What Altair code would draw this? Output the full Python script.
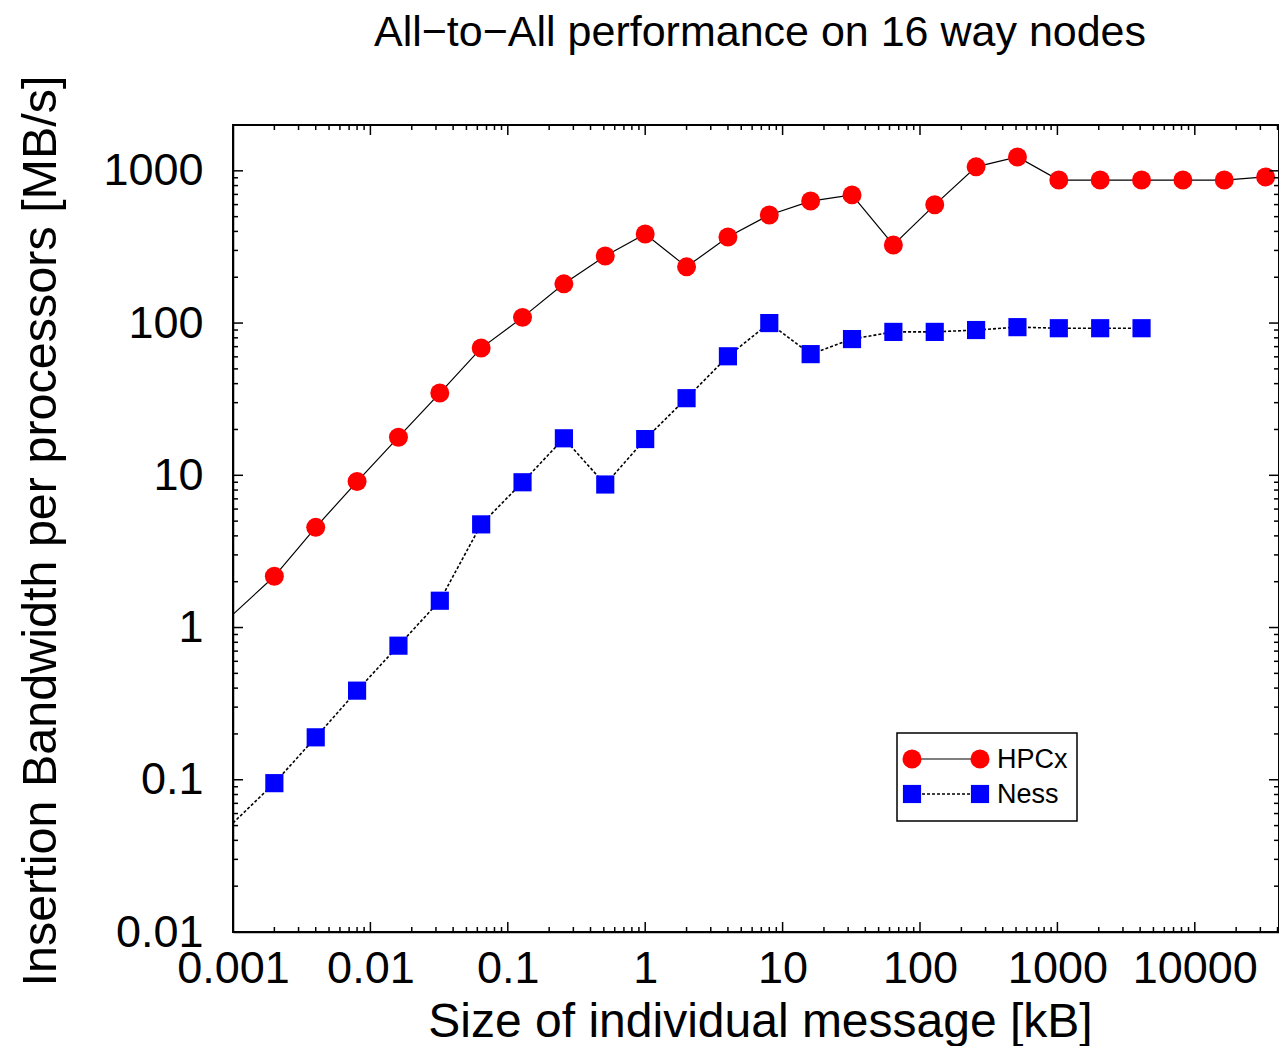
import altair as alt
import pandas as pd

# ---- data ----
sizes = [0.001, 0.002, 0.004, 0.008, 0.016, 0.032, 0.064, 0.128, 0.256, 0.512,
         1, 2, 4, 8, 16, 32, 64, 128, 256, 512, 1024, 2048, 4096, 8192, 16384, 32768]
hpcx = [1.22, 2.17, 4.55, 9.1, 17.8, 34.7, 68.5, 109, 181, 276,
        385, 234, 368, 513, 633, 695, 326, 598, 1062, 1233, 870, 870, 870, 870, 870, 912]
ness = [0.052, 0.095, 0.19, 0.385, 0.76, 1.5, 4.76, 9.0, 17.5, 8.7,
        17.3, 32.1, 60.5, 100, 62.5, 78.5, 87.5, 87.5, 90, 94, 92.5, 92.5, 92.5]

x_major = [0.001, 0.01, 0.1, 1, 10, 100, 1000, 10000]
y_major = [0.01, 0.1, 1, 10, 100, 1000]
x_minor = [m * d for d in [0.001, 0.01, 0.1, 1, 10, 100, 1000, 10000] for m in range(2, 10) if m * d <= 40000]
y_minor = [m * d for d in [0.01, 0.1, 1, 10, 100, 1000] for m in range(2, 10) if m * d <= 2000]

TITLE = "All\u2212to\u2212All performance on 16 way nodes"
W, H = 1046, 807
FONT = "Liberation Sans"

df_h = pd.DataFrame({"size": sizes, "bw": hpcx})
df_n = pd.DataFrame({"size": sizes[:len(ness)], "bw": ness})

xs = alt.Scale(type="log", domain=[0.001, 41000], nice=False)
ys = alt.Scale(type="log", domain=[0.01, 2000], nice=False)

x_axis = alt.Axis(values=x_major, format="~g", grid=False, ticks=False, tickSize=0,
                  domain=True, domainColor="black", domainWidth=1.5,
                  labelFont=FONT, labelFontSize=45, labelPadding=14, labelColor="black",
                  labelFlush=False, labelOverlap=False,
                  title="Size of individual message [kB]", titleFont=FONT, titleFontSize=48,
                  titleFontWeight="normal", titleColor="black", titleBaseline="alphabetic",
                  titleX=W / 2 + 4, titleY=104)
y_axis = alt.Axis(values=y_major, format="~g", grid=False, ticks=False, tickSize=0,
                  domain=True, domainColor="black", domainWidth=1.5,
                  labelFont=FONT, labelFontSize=45, labelPadding=30, labelColor="black",
                  labelFlush=False, labelOverlap=False, labelBaseline="middle",
                  title="Insertion Bandwidth per processors [MB/s]", titleFont=FONT, titleFontSize=48.5,
                  titleFontWeight="normal", titleColor="black", titleBaseline="alphabetic",
                  titleAngle=270, titleX=-178, titleY=H / 2 + 2)

X = lambda f: alt.X(f, scale=xs, axis=x_axis)
Y = lambda f: alt.Y(f, scale=ys, axis=y_axis)

base_h = alt.Chart(df_h)
base_n = alt.Chart(df_n)

line_h = base_h.mark_line(color="black", strokeWidth=1.2).encode(x=X("size:Q"), y=Y("bw:Q"))
line_n = base_n.mark_line(color="black", strokeWidth=1.6, strokeDash=[3, 2]).encode(x=X("size:Q"), y=Y("bw:Q"))
pts_h = base_h.mark_point(shape="circle", filled=True, color="#ff0000", size=360, opacity=1).encode(
    x=X("size:Q"), y=Y("bw:Q")).transform_filter("datum.size > 0.0015")
pts_n = base_n.mark_point(shape="square", filled=True, color="#0000ff", size=330, opacity=1).encode(
    x=X("size:Q"), y=Y("bw:Q")).transform_filter("datum.size > 0.0015")

# ---- inward gnuplot-style ticks on all four sides ----
def xticks(vals, length):
    d = alt.Chart(pd.DataFrame({"size": vals}))
    bot = d.mark_rule(color="black", strokeWidth=1.5).encode(
        x=X("size:Q"), y=alt.value(H), y2=alt.value(H - length))
    top = d.mark_rule(color="black", strokeWidth=1.5).encode(
        x=X("size:Q"), y=alt.value(0), y2=alt.value(length))
    return [bot, top]

def yticks(vals, length):
    d = alt.Chart(pd.DataFrame({"bw": vals}))
    left = d.mark_rule(color="black", strokeWidth=1.5).encode(
        y=Y("bw:Q"), x=alt.value(0), x2=alt.value(length))
    right = d.mark_rule(color="black", strokeWidth=1.5).encode(
        y=Y("bw:Q"), x=alt.value(W - length), x2=alt.value(W))
    return [left, right]

tick_layers = xticks(x_major, 10) + xticks(x_minor, 5) + yticks(y_major, 10) + yticks(y_minor, 5)

# ---- chart title as text placed above the frame ----
title_layer = alt.Chart(pd.DataFrame({"t": [TITLE]})).mark_text(
    align="center", baseline="alphabetic", font=FONT, fontSize=43, color="black").encode(
    x=alt.value(W / 2 + 4), y=alt.value(-79), text="t:N")

# ---- legend drawn like gnuplot's key ----
lg = alt.Chart(pd.DataFrame({"name": ["HPCx"]}))
ln = alt.Chart(pd.DataFrame({"name": ["Ness"]}))
LX0, LX1, LY0, LY1 = 664, 844, 608, 696
S0, S1, TX = 679, 747, 764
RH, RN = 634, 669
legend_layers = [
    lg.mark_rect(filled=False, stroke="black", strokeWidth=1.5).encode(
        x=alt.value(LX0), x2=alt.value(LX1), y=alt.value(LY0), y2=alt.value(LY1)),
    lg.mark_rule(color="black", strokeWidth=1.2).encode(
        x=alt.value(S0), x2=alt.value(S1), y=alt.value(RH)),
    lg.mark_point(shape="circle", filled=True, color="#ff0000", size=360, opacity=1).encode(
        x=alt.value(S0), y=alt.value(RH)),
    lg.mark_point(shape="circle", filled=True, color="#ff0000", size=360, opacity=1).encode(
        x=alt.value(S1), y=alt.value(RH)),
    lg.mark_text(align="left", baseline="middle", font=FONT, fontSize=27, color="black").encode(
        x=alt.value(TX), y=alt.value(RH + 1), text="name:N"),
    ln.mark_rule(color="black", strokeWidth=1.6, strokeDash=[3, 2]).encode(
        x=alt.value(S0), x2=alt.value(S1), y=alt.value(RN)),
    ln.mark_point(shape="square", filled=True, color="#0000ff", size=330, opacity=1).encode(
        x=alt.value(S0), y=alt.value(RN)),
    ln.mark_point(shape="square", filled=True, color="#0000ff", size=330, opacity=1).encode(
        x=alt.value(S1), y=alt.value(RN)),
    ln.mark_text(align="left", baseline="middle", font=FONT, fontSize=27, color="black").encode(
        x=alt.value(TX), y=alt.value(RN + 1), text="name:N"),
]

chart = alt.layer(line_h, line_n, pts_h, pts_n, *tick_layers, title_layer, *legend_layers).properties(
    width=W, height=H,
    background="white",
    padding={"left": 225, "top": 117, "right": 0, "bottom": 114},
    autosize=alt.AutoSizeParams(type="none"),
).configure_view(stroke="black", strokeWidth=2)

chart.save("out.html", embed_options={"renderer": "svg", "actions": False})
